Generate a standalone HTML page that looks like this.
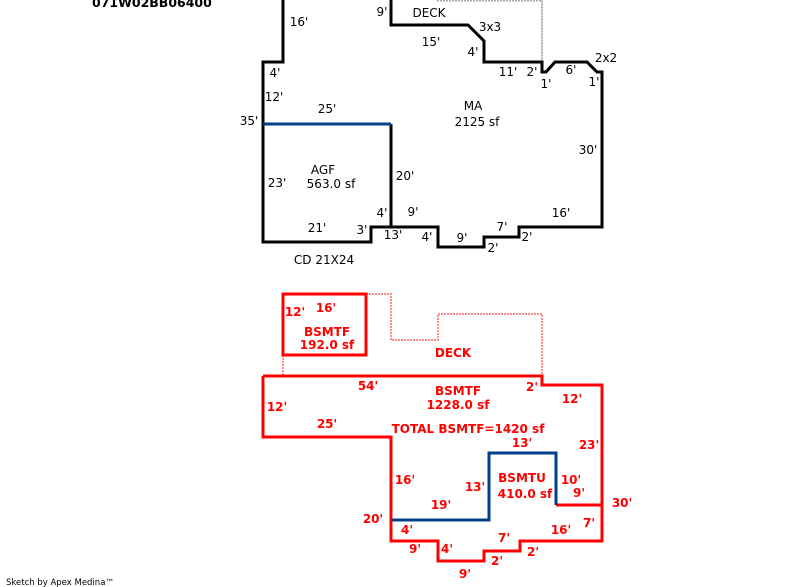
<!DOCTYPE html>
<html><head><meta charset="utf-8"><style>
html,body{margin:0;padding:0;background:#fff;}
svg{display:block;}
.k{font-family:"DejaVu Sans","Liberation Sans",sans-serif;font-size:12px;fill:#000;}
.r{font-family:"DejaVu Sans","Liberation Sans",sans-serif;font-size:12px;font-weight:bold;fill:#ff0000;}
</style></head><body>
<svg width="800" height="587" viewBox="0 0 800 587" xmlns="http://www.w3.org/2000/svg">
<rect width="800" height="587" fill="#fff"/>
<!-- header -->
<text x="92" y="7" style="font-family:'DejaVu Sans','Liberation Sans',sans-serif;font-size:12.5px;font-weight:bold;fill:#000">071W02BB06400</text>

<!-- TOP: gray dotted deck -->
<polyline points="437,0.5 542,0.5 542,62" fill="none" stroke="#a8a8a8" stroke-width="2" stroke-dasharray="2,1"/>
<!-- TOP black outline -->
<polyline points="283,0 283,62 263,62 263,242 371,242 371,227 438,227 438,247 484,247 484,237 519,237 519,227 602,227 602,72 597,72 587,62 555,62 546,72 542,72 542,62 484,62 484,41 468,25 391,25 391,0" fill="none" stroke="#000" stroke-width="3" stroke-linejoin="miter"/>
<line x1="391" y1="124" x2="391" y2="227" stroke="#000" stroke-width="3"/>
<line x1="263" y1="124" x2="391" y2="124" stroke="#003f8a" stroke-width="3"/>

<g class="k" text-anchor="middle">
<text x="299" y="26">16'</text>
<text x="382" y="16">9'</text>
<text x="429" y="17">DECK</text>
<text x="490" y="31">3x3</text>
<text x="431" y="46">15'</text>
<text x="473" y="56">4'</text>
<text x="508" y="76">11'</text>
<text x="532" y="76">2'</text>
<text x="546" y="88">1'</text>
<text x="571" y="74">6'</text>
<text x="606" y="62">2x2</text>
<text x="594" y="86">1'</text>
<text x="275" y="77">4'</text>
<text x="274" y="101">12'</text>
<text x="249" y="125">35'</text>
<text x="327" y="113">25'</text>
<text x="473" y="110">MA</text>
<text x="477" y="126">2125 sf</text>
<text x="588" y="154">30'</text>
<text x="323" y="174">AGF</text>
<text x="277" y="187">23'</text>
<text x="331" y="188">563.0 sf</text>
<text x="405" y="180">20'</text>
<text x="382" y="217">4'</text>
<text x="413" y="216">9'</text>
<text x="561" y="217">16'</text>
<text x="317" y="232">21'</text>
<text x="362" y="234">3'</text>
<text x="393" y="239">13'</text>
<text x="427" y="241">4'</text>
<text x="462" y="242">9'</text>
<text x="502" y="231">7'</text>
<text x="527" y="241">2'</text>
<text x="493" y="252">2'</text>
<text x="324" y="264">CD 21X24</text>
</g>

<!-- BOTTOM: pink dotted deck -->
<polyline points="366,294 391,294 391,340 438,340 438,314 542,314 542,376" fill="none" stroke="#ff8c8c" stroke-width="2" stroke-dasharray="2,1"/>
<line x1="283" y1="355" x2="283" y2="376" stroke="#ff8c8c" stroke-width="2" stroke-dasharray="2,1"/>
<!-- small box -->
<rect x="283" y="294" width="83" height="61" fill="none" stroke="#ff0000" stroke-width="3"/>
<!-- big outline -->
<polyline points="263,376 542,376 542,385 602,385 602,541 520,541 520,551 484,551 484,561 438,561 438,541 391,541 391,437 263,437 263,376" fill="none" stroke="#ff0000" stroke-width="3"/>
<line x1="556" y1="505" x2="602" y2="505" stroke="#ff0000" stroke-width="3"/>
<polyline points="391,520 489,520 489,453 556,453 556,505" fill="none" stroke="#003f8a" stroke-width="3"/>

<g class="r" text-anchor="middle">
<text x="295" y="316">12'</text>
<text x="326" y="312">16'</text>
<text x="327" y="336">BSMTF</text>
<text x="327" y="349">192.0 sf</text>
<text x="453" y="357">DECK</text>
<text x="368" y="390">54'</text>
<text x="532" y="391">2'</text>
<text x="458" y="395">BSMTF</text>
<text x="458" y="409">1228.0 sf</text>
<text x="277" y="411">12'</text>
<text x="572" y="403">12'</text>
<text x="327" y="428">25'</text>
<text x="468" y="433">TOTAL BSMTF=1420 sf</text>
<text x="522" y="447">13'</text>
<text x="589" y="449">23'</text>
<text x="405" y="484">16'</text>
<text x="522" y="482">BSMTU</text>
<text x="571" y="484">10'</text>
<text x="475" y="491">13'</text>
<text x="525" y="498">410.0 sf</text>
<text x="579" y="497">9'</text>
<text x="622" y="507">30'</text>
<text x="441" y="509">19'</text>
<text x="373" y="523">20'</text>
<text x="589" y="527">7'</text>
<text x="407" y="534">4'</text>
<text x="561" y="534">16'</text>
<text x="504" y="542">7'</text>
<text x="415" y="553">9'</text>
<text x="447" y="553">4'</text>
<text x="533" y="556">2'</text>
<text x="497" y="565">2'</text>
<text x="465" y="578">9'</text>
</g>

<text x="6" y="585" style="font-family:'DejaVu Sans','Liberation Sans',sans-serif;font-size:8.5px;fill:#000">Sketch by Apex Medina™</text>
</svg>
</body></html>
